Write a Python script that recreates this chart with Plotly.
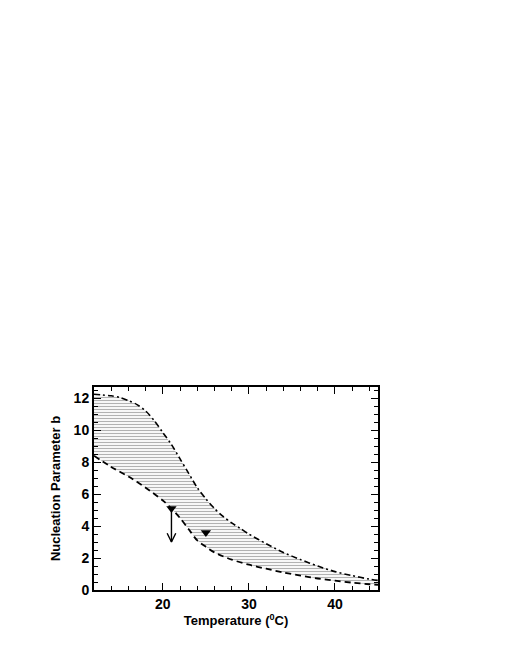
import plotly.graph_objects as go

# upper bound of the band (dash-dot)
upper_t = [12, 13, 14, 15, 16, 17, 18, 19, 20, 21, 22, 23, 24, 25, 26, 27, 28, 29, 30,
           32, 34, 36, 38, 40, 42, 44, 45]
upper_b = [12.25, 12.2, 12.15, 12.05, 11.85, 11.6, 11.2, 10.6, 9.85, 9.1, 8.2, 7.3, 6.4,
           5.7, 5.1, 4.6, 4.2, 3.85, 3.5, 2.9, 2.35, 1.9, 1.5, 1.15, 0.9, 0.68, 0.6]

# lower bound of the band (dashed)
lower_t = [12, 14, 16, 18, 20, 21, 22, 23, 24, 25, 26, 28, 30, 32, 34, 36, 38, 40, 42, 44, 45]
lower_b = [8.4, 7.7, 7.1, 6.4, 5.6, 5.1, 4.5, 3.8, 3.1, 2.7, 2.35, 1.9, 1.58, 1.33, 1.1,
           0.9, 0.72, 0.58, 0.46, 0.36, 0.32]

# measured points
meas_t = [21, 25]
meas_b = [5.1, 3.6]

# upper limit arrow
arrow_t = 21
arrow_from = 5.1
arrow_to = 3.0

font = "Liberation Sans, Arial, sans-serif"

fig = go.Figure()

fig.add_trace(go.Scatter(
    x=upper_t + lower_t[::-1], y=upper_b + lower_b[::-1],
    fill="toself", mode="none", hoverinfo="skip",
    fillcolor="rgba(255,255,255,0)",
    fillpattern=dict(shape="-", fgcolor="#666666", bgcolor="white", size=3, solidity=0.4),
))
fig.add_trace(go.Scatter(x=upper_t, y=upper_b, mode="lines",
                         line=dict(color="black", width=1.6, dash="6px,3px,2px,3px",
                                   shape="spline", smoothing=0.8)))
fig.add_trace(go.Scatter(x=lower_t, y=lower_b, mode="lines",
                         line=dict(color="black", width=1.8, dash="6px,4px",
                                   shape="spline", smoothing=0.8)))

# arrow shaft and open head
fig.add_trace(go.Scatter(
    x=[arrow_t, arrow_t, None, arrow_t - 0.5, arrow_t, arrow_t + 0.5],
    y=[arrow_from, arrow_to, None, arrow_to + 0.55, arrow_to, arrow_to + 0.55],
    mode="lines", line=dict(color="black", width=1.4),
))
fig.add_trace(go.Scatter(x=meas_t, y=meas_b, mode="markers",
                         marker=dict(symbol="triangle-down", size=9, color="black")))

axis_common = dict(
    showline=True, linecolor="black", linewidth=2, mirror="allticks",
    ticks="inside", ticklen=7, tickwidth=1, tickcolor="black",
    showgrid=False, zeroline=False, automargin=False,
    tickfont=dict(family=font, size=14, color="black", weight="bold"),
)

# page body has an 8px margin, so the figure is sized to fit inside the window
fig.update_layout(
    width=502, height=652,
    margin=dict(l=86, r=132, t=379, b=70, autoexpand=False),
    paper_bgcolor="white", plot_bgcolor="white",
    showlegend=False,
    xaxis=dict(
        range=[12, 45], tickvals=[20, 30, 40],
        minor=dict(ticks="inside", dtick=2, tick0=0, ticklen=4, tickcolor="black"),
        title=dict(text="<b>Temperature (<sup>0</sup>C)</b>", standoff=4,
                   font=dict(family=font, size=13, color="black")),
        **axis_common,
    ),
    yaxis=dict(
        range=[0, 12.7], tickvals=[0, 2, 4, 6, 8, 10, 12],
        minor=dict(ticks="inside", dtick=0.5, tick0=0, ticklen=4, tickcolor="black"),
        title=dict(text="<b>Nucleation Parameter b</b>", standoff=10,
                   font=dict(family=font, size=13, color="black")),
        **axis_common,
    ),
)

fig.write_html("out.html")
